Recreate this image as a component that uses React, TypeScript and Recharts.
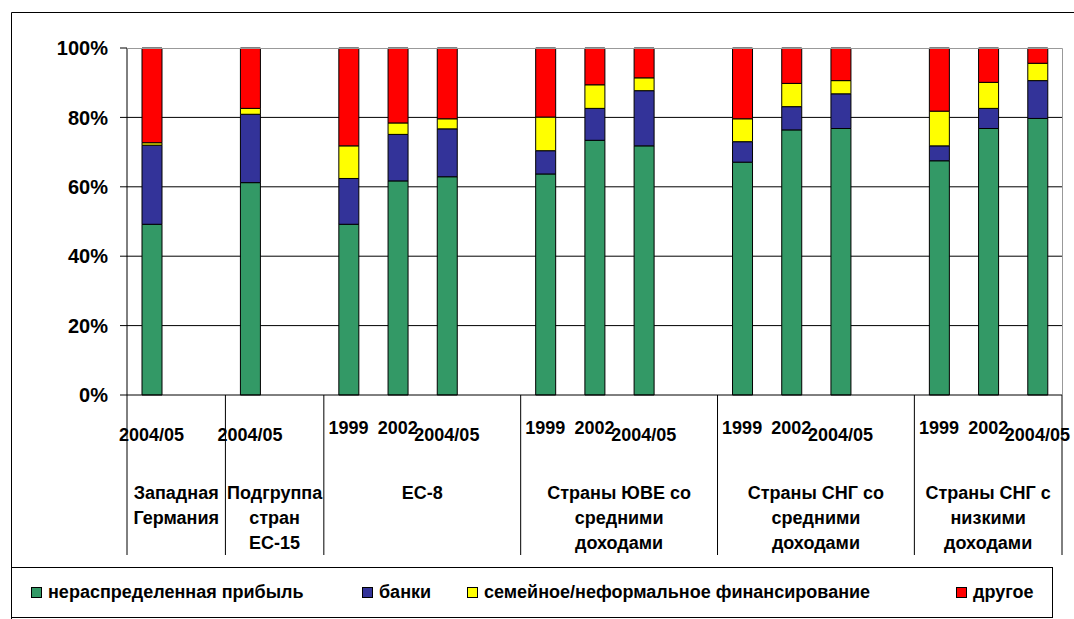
import { BarChart, Bar, XAxis, YAxis, CartesianGrid } from "recharts";

// groups along the category axis
const groupNames = [
  ["Западная", "Германия"],
  ["Подгруппа", "стран", "ЕС-15"],
  ["ЕС-8"],
  ["Страны ЮВЕ со", "средними", "доходами"],
  ["Страны СНГ со", "средними", "доходами"],
  ["Страны СНГ с", "низкими", "доходами"],
];

const years = [
  "2004/05", "2004/05",
  "1999", "2002", "2004/05",
  "1999", "2002", "2004/05",
  "1999", "2002", "2004/05",
  "1999", "2002", "2004/05",
];
const barGroup = [0, 1, 2, 2, 2, 3, 3, 3, 4, 4, 4, 5, 5, 5];

// shares, %
const retainedEarnings = [49.2, 61.2, 49.2, 61.7, 62.9, 63.7, 73.4, 71.8, 67.1, 76.4, 76.8, 67.5, 76.8, 79.7];
const banks = [22.8, 19.7, 13.2, 13.4, 13.8, 6.7, 9.2, 15.9, 5.9, 6.7, 10.0, 4.3, 5.8, 10.9];
const familyInformal = [0.7, 1.7, 9.4, 3.3, 2.9, 9.7, 6.8, 3.7, 6.6, 6.7, 3.8, 10.0, 7.5, 5.0];
const other = [27.3, 17.4, 28.2, 21.6, 20.4, 19.9, 10.6, 8.6, 20.4, 10.2, 9.4, 18.2, 9.9, 4.4];

const seriesNames = [
  "нераспределенная прибыль",
  "банки",
  "семейное/неформальное финансирование",
  "другое",
];
const seriesKeys = ["retained", "banks", "family", "other"];
const seriesColors = ["#339966", "#333399", "#FFFF00", "#FF0000"];
const yTicks = [0, 20, 40, 60, 80, 100];

const W = 1074;
const H = 619;
const PLOT = { left: 127, right: 1062, top: 48, bottom: 395 };
const Y_AXIS_W = 80;
const X_AXIS_H = 160;
const FONT = "'Liberation Sans', Arial, sans-serif";

type Row = {
  slot: string;
  year: string;
  group: number;
  first: boolean;
  retained?: number;
  banks?: number;
  family?: number;
  other?: number;
};

const rows: Row[] = [];
const groupSize: number[] = [];
groupNames.forEach((_, g) => {
  const idx = barGroup.map((gg, i) => (gg === g ? i : -1)).filter((i) => i >= 0);
  idx.forEach((i, k) =>
    rows.push({
      slot: `b${i}`,
      year: years[i],
      group: g,
      first: k === 0,
      retained: retainedEarnings[i],
      banks: banks[i],
      family: familyInformal[i],
      other: other[i],
    })
  );
  let n = idx.length;
  if (g < groupNames.length - 1) {
    rows.push({ slot: `gap${g}`, year: "", group: g, first: false });
    n += 1;
  }
  groupSize.push(n);
});

const slotW = (PLOT.right - PLOT.left) / rows.length;

function SlotTick(props: any) {
  const { x, payload } = props;
  const row = rows.find((r) => r.slot === payload.value);
  if (!row) return null;
  const txt = { fontFamily: FONT, fontWeight: 700, fontSize: 18, fill: "#000" };
  const left = x - slotW / 2;
  const n = groupSize[row.group];
  const cx = left + (n * slotW) / 2;
  return (
    <g>
      {row.year && (
        <text x={x} y={row.year.length > 4 ? 441 : 434} textAnchor="middle" {...txt}>
          {row.year}
        </text>
      )}
      {row.first && (
        <>
          <line x1={left} x2={left} y1={PLOT.bottom} y2={555} stroke="#000" />
          {row.group === groupNames.length - 1 && (
            <line x1={left + n * slotW} x2={left + n * slotW} y1={PLOT.bottom} y2={555} stroke="#000" />
          )}
          {groupNames[row.group].map((line, k) => (
            <text key={k} x={cx} y={499 + k * 25} textAnchor="middle" {...txt}>
              {line}
            </text>
          ))}
        </>
      )}
    </g>
  );
}

const legendLeft = [31, 362, 467, 956];

export default function App() {
  return (
    <div style={{ position: "absolute", left: 0, top: 0, width: W, height: H, background: "#fff" }}>
      <BarChart
        width={W}
        height={H}
        data={rows}
        barSize={20}
        margin={{
          top: PLOT.top,
          right: W - PLOT.right,
          left: PLOT.left - Y_AXIS_W,
          bottom: H - PLOT.bottom - X_AXIS_H,
        }}
      >
        <CartesianGrid vertical={false} stroke="#000" horizontalValues={[20, 40, 60, 80]} />
        <XAxis
          dataKey="slot"
          interval={0}
          height={X_AXIS_H}
          tickLine={false}
          axisLine={{ stroke: "#000" }}
          tick={SlotTick}
        />
        <YAxis
          width={Y_AXIS_W}
          domain={[0, 100]}
          ticks={yTicks}
          tickFormatter={(v: number) => `${v}%`}
          tickSize={7}
          tickMargin={12}
          axisLine={{ stroke: "#000" }}
          tickLine={{ stroke: "#000" }}
          tick={{ fontFamily: FONT, fontWeight: 700, fontSize: 20, fill: "#000" }}
        />
        {seriesKeys.map((k, i) => (
          <Bar
            key={k}
            dataKey={k}
            name={seriesNames[i]}
            stackId="s"
            fill={seriesColors[i]}
            stroke="#000"
            strokeWidth={1}
            isAnimationActive={false}
          />
        ))}
      </BarChart>

      {/* frame, legend box, plot border */}
      <svg width={W} height={H} style={{ position: "absolute", left: 0, top: 0, pointerEvents: "none" }}>
        <path d={`M${W + 5},12.5 H11.5 V${H}`} fill="none" stroke="#000" />
        <rect x={11.5} y={567.5} width={1041} height={50} fill="none" stroke="#000" />
        <path
          d={`M${PLOT.left},${PLOT.top + 0.5} H${PLOT.right + 0.5} V${PLOT.bottom}`}
          fill="none"
          stroke="#999"
        />
      </svg>

      {seriesNames.map((name, i) => (
        <div
          key={name}
          style={{
            position: "absolute",
            left: legendLeft[i],
            top: 582,
            display: "flex",
            alignItems: "center",
            fontFamily: FONT,
            fontWeight: 700,
            fontSize: 18,
            color: "#000",
            whiteSpace: "nowrap",
          }}
        >
          <span
            style={{
              display: "inline-block",
              width: 9,
              height: 9,
              border: "1px solid #000",
              background: seriesColors[i],
              marginRight: 6,
            }}
          />
          {name}
        </div>
      ))}
    </div>
  );
}
